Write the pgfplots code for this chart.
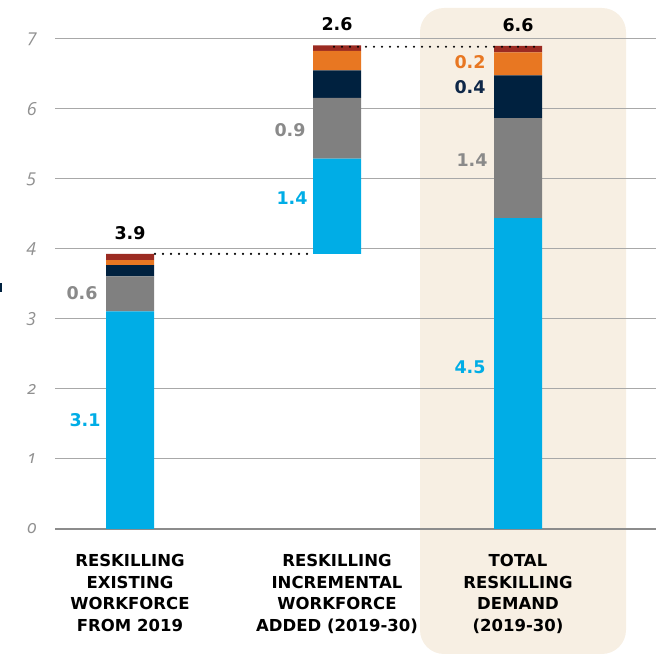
\documentclass[border=0pt]{standalone}
\usepackage{pgfplots}
\pgfplotsset{compat=1.18}
\usepackage{fontspec}
\setmainfont{Open Sans}[Numbers=OldStyle]
\newfontfamily\dvs{DejaVu Sans}
\definecolor{cblue}{HTML}{00ADE6}
\definecolor{cgrey}{HTML}{808080}
\definecolor{cnavy}{HTML}{00213F}
\definecolor{corange}{HTML}{E87722}
\definecolor{cred}{HTML}{9B2B22}
\definecolor{beige}{HTML}{F7EFE3}
\definecolor{gridc}{HTML}{A8A8A8}
\definecolor{zeroc}{HTML}{8C8C8C}
\definecolor{ticklab}{HTML}{909090}
\definecolor{labgrey}{HTML}{8A8A8A}
\definecolor{labnavy}{HTML}{0E2748}
\pgfplotsset{base/.style={at={(55pt,126pt)}, anchor=south west, scale only axis,
  width=601pt, height=490pt, xmin=0, xmax=601, ymin=0, ymax=7, clip=false}}
\begin{document}
\begin{tikzpicture}
\path[use as bounding box] (0,0) rectangle (656pt,655pt);
\fill[beige, rounded corners=24pt] (420pt,1pt) rectangle (626pt,647pt);
\fill[cnavy] (0pt,363pt) rectangle (2pt,372pt);
\begin{axis}[base, ybar stacked, bar width=48,
  axis line style={draw=none}, major tick length=0pt,
  ymajorgrids, grid style={gridc, line width=1pt},
  ytick={0,...,7},
  extra y ticks={0}, extra y tick labels={},
  extra y tick style={grid style={zeroc, line width=2.4pt}},
  yticklabel style={font=\itshape\fontsize{18}{18}\selectfont, text=ticklab, xshift=-15pt},
  /pgf/number format/assume math mode=true,
  xtick={75,282,463},
  xticklabels={{RESKILLING\\EXISTING\\WORKFORCE\\FROM 2019},
               {RESKILLING\\INCREMENTAL\\WORKFORCE\\ADDED (2019-30)},
               {TOTAL\\RESKILLING\\DEMAND\\(2019-30)}},
  xticklabel style={font=\dvs\bfseries\fontsize{16.5}{21.5}\selectfont, align=center, yshift=-22pt},
]
\addplot[draw=none, fill=none, forget plot] coordinates {(75,0) (282,3.93) (463,0)};
\addplot[draw=none, fill=cblue] coordinates {(75,3.11) (282,1.36) (463,4.44)};
\addplot[draw=none, fill=cgrey] coordinates {(75,0.50) (282,0.87) (463,1.43)};
\addplot[draw=none, fill=cnavy] coordinates {(75,0.16) (282,0.39) (463,0.61)};
\addplot[draw=none, fill=corange] coordinates {(75,0.07) (282,0.28) (463,0.33)};
\addplot[draw=none, fill=cred] coordinates {(75,0.09) (282,0.08) (463,0.09)};
\end{axis}
\begin{axis}[base, hide axis]
\addplot[black, line width=2.3pt, line cap=round, dash pattern=on 0pt off 8pt] coordinates {(100,3.93) (256,3.93)};
\addplot[black, line width=2.3pt, line cap=round, dash pattern=on 0pt off 8pt] coordinates {(279,6.89) (479,6.89)};
\begin{scope}[every node/.style={font=\dvs\bfseries\fontsize{17.5}{17.5}\selectfont}]
\node[black] at (axis cs:75,4.23) {3.9};
\node[labgrey] at (axis cs:27,3.37) {0.6};
\node[cblue] at (axis cs:30,1.56) {3.1};
\node[black] at (axis cs:282,7.21) {2.6};
\node[labgrey] at (axis cs:235,5.70) {0.9};
\node[cblue] at (axis cs:237,4.73) {1.4};
\node[black] at (axis cs:463,7.20) {6.6};
\node[corange] at (axis cs:415,6.67) {0.2};
\node[labnavy] at (axis cs:415,6.31) {0.4};
\node[labgrey] at (axis cs:417,5.27) {1.4};
\node[cblue] at (axis cs:415,2.31) {4.5};
\end{scope}
\end{axis}
\end{tikzpicture}
\end{document}
